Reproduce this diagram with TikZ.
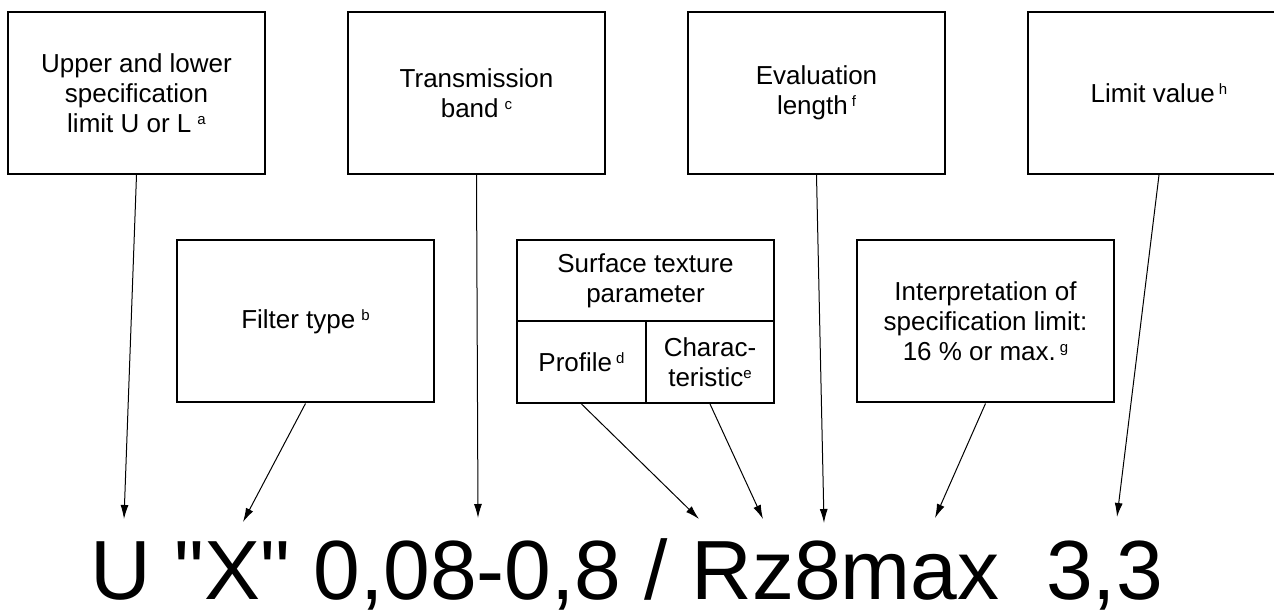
\documentclass[tikz,border=0pt]{standalone}
\usepackage{fontspec}
\setmainfont{Liberation Sans}
\newfontfamily\codefont{Liberation Sans}
\usetikzlibrary{arrows.meta,positioning}
\tikzset{
  >={Latex[length=7pt,width=4pt]},
  box/.style={rectangle, draw, line width=1pt, minimum width=128.5pt, minimum height=81pt, inner sep=2pt, align=center, font=\fontsize{13}{15}\selectfont},
  cell/.style={box, minimum width=64.5pt, minimum height=41pt},
  ptr/.style={->, line width=0.5pt},
  code/.style={inner sep=0pt, font=\codefont\fontsize{42}{42}\selectfont}
}
\newcommand{\fnm}[1]{\raisebox{4pt}{\fontsize{7.5}{7.5}\selectfont #1}}

\begin{document}
\begin{tikzpicture}[x=0.5pt, y=0.5pt]
\useasboundingbox (0,0) rectangle (1274,610);

% --- upper row ---
\node[box] (limit) at (136.5,517) {Upper and lower\\specification\\limit U or L\hspace{3pt}\fnm{a}};
\node[box] (band) at (476.5,517) {Transmission\\band\hspace{3pt}\fnm{c}};
\node[box] (evlen) at (816.5,517) {Evaluation\\length\hspace{2pt}\fnm{f}};
\node[box, minimum width=131pt] (value) at (1159,517) {Limit value\hspace{2pt}\fnm{h}};

% --- lower row ---
\node[box] (filter) at (305.5,288.5) {Filter type\hspace{3pt}\fnm{b}};
\node[cell, minimum width=128.5pt, minimum height=40.5pt] (param) at (645.5,329.5) {Surface texture\\parameter};
\node[cell] (profile) at (581.5,248) {Profile\hspace{2pt}\fnm{d}};
\node[cell, minimum width=64pt] (charac) at (710,248) {Charac-\\teristic\fnm{e}};
\node[box] (interp) at (985.5,288.5) {Interpretation of\\specification limit:\\16 \% or max.\hspace{2pt}\fnm{g}};

% --- the indication ---
\node[code, anchor=base west] (indic) at (90,10) {U "X" 0,08-0,8 / Rz8max\ \ 3,3};

\coordinate (tipU) at (124,91);
\coordinate (tipX) at (243,88);
\coordinate (tipBand) at (478,92);
\coordinate (tipR) at (699,91);
\coordinate (tipZ) at (763,91);
\coordinate (tipEight) at (824,87);
\coordinate (tipMax) at (935,92);
\coordinate (tipVal) at (1117,93);

% --- pointers ---
\draw[ptr] (limit.south) -- (tipU);
\draw[ptr] (filter.south) -- (tipX);
\draw[ptr] (band.south) -- (tipBand);
\draw[ptr] (profile.south) -- (tipR);
\draw[ptr] (charac.south) -- (tipZ);
\draw[ptr] (evlen.south) -- (tipEight);
\draw[ptr] (interp.south) -- (tipMax);
\draw[ptr] (value.south) -- (tipVal);

\end{tikzpicture}
\end{document}
